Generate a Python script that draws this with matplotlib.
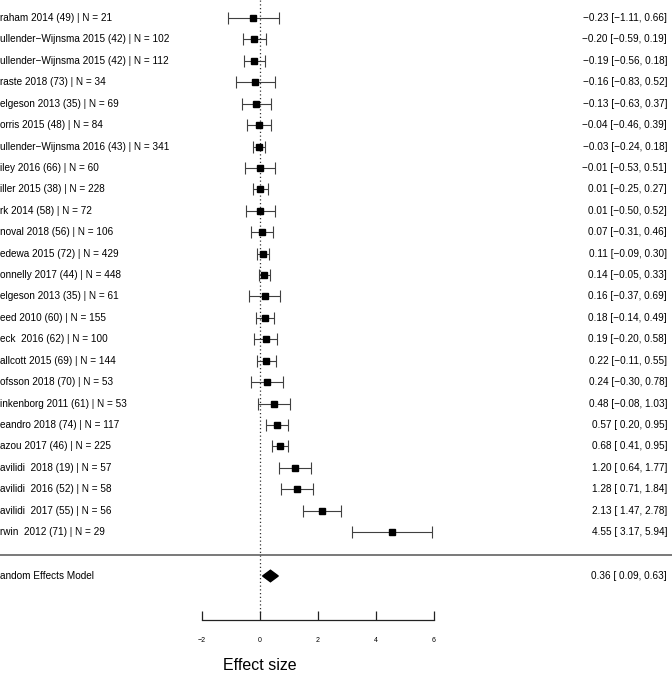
import matplotlib
matplotlib.use("Agg")
import matplotlib.pyplot as plt
import numpy as np

plt.rcParams['font.family'] = ['Liberation Sans', 'DejaVu Sans']

# -------------------------
# Data
# -------------------------
study_labels = [
    "raham 2014 (49) | N = 21",
    "ullender\u2212Wijnsma 2015 (42) | N = 102",
    "ullender\u2212Wijnsma 2015 (42) | N = 112",
    "raste 2018 (73) | N = 34",
    "elgeson 2013 (35) | N = 69",
    "orris 2015 (48) | N = 84",
    "ullender\u2212Wijnsma 2016 (43) | N = 341",
    "iley 2016 (66) | N = 60",
    "iller 2015 (38) | N = 228",
    "rk 2014 (58) | N = 72",
    "noval 2018 (56) | N = 106",
    "edewa 2015 (72) | N = 429",
    "onnelly 2017 (44) | N = 448",
    "elgeson 2013 (35) | N = 61",
    "eed 2010 (60) | N = 155",
    "eck  2016 (62) | N = 100",
    "allcott 2015 (69) | N = 144",
    "ofsson 2018 (70) | N = 53",
    "inkenborg 2011 (61) | N = 53",
    "eandro 2018 (74) | N = 117",
    "azou 2017 (46) | N = 225",
    "avilidi  2018 (19) | N = 57",
    "avilidi  2016 (52) | N = 58",
    "avilidi  2017 (55) | N = 56",
    "rwin  2012 (71) | N = 29",
]
effect = [-0.23, -0.20, -0.19, -0.16, -0.13, -0.04, -0.03, -0.01, 0.01, 0.01,
          0.07, 0.11, 0.14, 0.16, 0.18, 0.19, 0.22, 0.24, 0.48, 0.57,
          0.68, 1.20, 1.28, 2.13, 4.55]
ci_low = [-1.11, -0.59, -0.56, -0.83, -0.63, -0.46, -0.24, -0.53, -0.25, -0.50,
          -0.31, -0.09, -0.05, -0.37, -0.14, -0.20, -0.11, -0.30, -0.08, 0.20,
          0.41, 0.64, 0.71, 1.47, 3.17]
ci_high = [0.66, 0.19, 0.18, 0.52, 0.37, 0.39, 0.18, 0.51, 0.27, 0.52,
           0.46, 0.30, 0.33, 0.69, 0.49, 0.58, 0.55, 0.78, 1.03, 0.95,
           0.95, 1.77, 1.84, 2.78, 5.94]

re_label = "andom Effects Model"
re_effect, re_low, re_high = 0.36, 0.09, 0.63

x_ticks = [-2, 0, 2, 4, 6]
x_tick_labels = ["\u22122", "0", "2", "4", "6"]


def fmt_num(v):
    s = f"{abs(v):.2f}"
    return ("\u2212" + s) if v < 0 else s


def fmt_ci(est, lo, hi):
    lo_s = fmt_num(lo) if lo < 0 else " " + fmt_num(lo)
    return f"{fmt_num(est)} [{lo_s}, {fmt_num(hi)}]"


# -------------------------
# Figure
# -------------------------
fig = plt.figure(figsize=(6.72, 6.77), dpi=100)
ax = fig.add_axes([0, 0, 1, 1])

px_per_unit = 29.0
x0_px = 260.0
row_px = 21.42
top_px = 18.0
ax.set_xlim(-x0_px / px_per_unit, (672 - x0_px) / px_per_unit)
ax.set_ylim((677 - top_px) / row_px, -top_px / row_px)

rows = np.arange(len(effect))
err = [np.array(effect) - np.array(ci_low), np.array(ci_high) - np.array(effect)]
ax.errorbar(effect, rows, xerr=err, fmt='none', ecolor='#404040',
            elinewidth=0.8, capsize=4.3, capthick=0.8, zorder=2)
ax.plot(effect, rows, 's', color='black', markersize=4.0, zorder=3)

sep_y = 25.05
re_y = 26.05
axis_y = 28.12

# dotted reference line at zero
ax.vlines(0, -top_px / row_px, axis_y - 0.35, colors='#333333',
          linestyles=(0, (1, 2)), linewidth=0.9, zorder=1)

# separator
ax.axhline(sep_y, color='#555555', linewidth=1.1)

# summary diamond
dh = 0.27
ax.fill([re_low, re_effect, re_high, re_effect],
        [re_y, re_y - dh, re_y, re_y + dh], color='black', zorder=3)

# labels
ytr = ax.get_yaxis_transform()
for i, lab in enumerate(study_labels):
    ax.text(0.0, i, lab, transform=ytr, ha='left', va='center', fontsize=7.2)
    ax.text(0.9926, i, fmt_ci(effect[i], ci_low[i], ci_high[i]), transform=ytr,
            ha='right', va='center', fontsize=7.2)
ax.text(0.0, re_y, re_label, transform=ytr, ha='left', va='center', fontsize=7.2)
ax.text(0.9926, re_y, fmt_ci(re_effect, re_low, re_high), transform=ytr,
        ha='right', va='center', fontsize=7.2)

# x axis
for s in ['top', 'left', 'right']:
    ax.spines[s].set_visible(False)
ax.spines['bottom'].set_position(('data', axis_y))
ax.spines['bottom'].set_bounds(-2, 6)
ax.spines['bottom'].set_linewidth(0.9)
ax.spines['bottom'].set_color('#222222')
ax.set_xticks(x_ticks)
ax.set_xticklabels(x_tick_labels)
ax.tick_params(axis='x', direction='in', length=6.5, width=0.9, color='#222222',
               labelsize=5, pad=12)
ax.set_yticks([])
ax.patch.set_visible(False)

fig.text(x0_px / 672, 1 - 665 / 677, "Effect size", ha='center', va='center',
         fontsize=11.5)

fig.savefig("out.png", dpi=100)
